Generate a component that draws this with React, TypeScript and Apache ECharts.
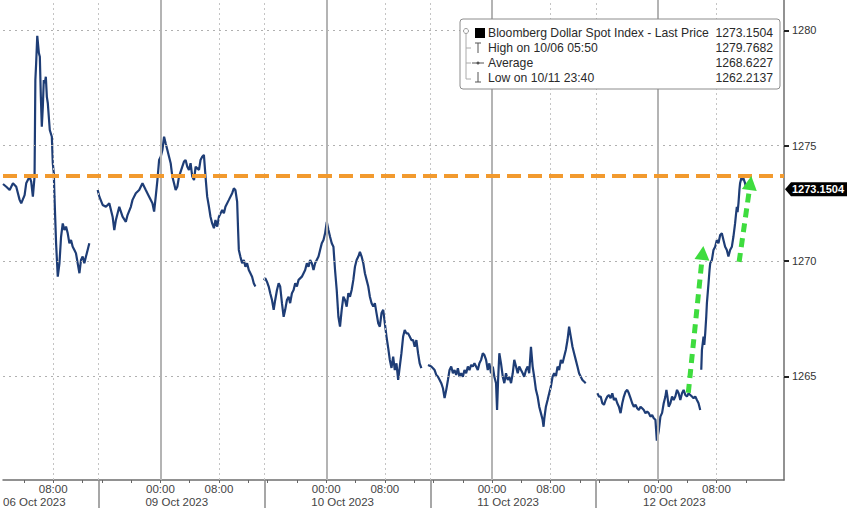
import React, { useEffect, useRef } from "react";
import * as echarts from "echarts";

// Compressed session timeline (hours). Each session runs from a break to the next break.
const dayMidnight = [-1.15, 21.5, 44.15, 66.8, 89.45];
const sessionBreaks = [13.06, 35.71, 58.36, 81.01];
const axisEnd = 106.67;

const dateLabels = ["06 Oct 2023", "09 Oct 2023", "10 Oct 2023", "11 Oct 2023", "12 Oct 2023"];
const timeLabelHours = [0, 8];
const minorTickHours = [-8, -4, 0, 4, 8, 12];
const priceTicks = [1265, 1270, 1275, 1280];
const yMin = 1260.5;
const yMax = 1281.32;

const resistanceLevel = 1273.7;
const lastPrice = 1273.1504;

// [hour relative to that day's midnight, price]
const oct06 = [
  [1.15, 1273.34], [1.6, 1273.22], [2.06, 1273.08], [2.51, 1273.37], [2.96, 1273.22], [3.42, 1272.65],
  [3.64, 1272.5], [4.1, 1272.86], [4.32, 1273.37], [4.78, 1273.66], [5.0, 1273.44], [5.23, 1272.79],
  [5.46, 1273.66], [5.57, 1277.85], [5.68, 1278.59], [5.83, 1279.77], [6.05, 1279.02], [6.18, 1278.86],
  [6.32, 1277.12], [6.45, 1275.82], [6.59, 1276.69], [6.72, 1277.85], [6.86, 1277.71], [7.0, 1277.99],
  [7.14, 1277.12], [7.27, 1276.84], [7.54, 1275.68], [7.82, 1275.39], [7.95, 1274.24], [8.09, 1273.8],
  [8.18, 1272.79], [8.4, 1270.77], [8.63, 1269.32], [8.86, 1269.9], [9.08, 1271.05], [9.31, 1271.63],
  [9.54, 1271.34], [9.76, 1271.49], [9.99, 1271.2], [10.22, 1270.77], [10.44, 1270.91], [10.67, 1270.62],
  [10.9, 1270.48], [11.12, 1270.33], [11.35, 1269.9], [11.59, 1269.47], [11.8, 1270.04], [12.03, 1270.19],
  [12.26, 1269.9], [12.48, 1270.19], [12.71, 1270.48], [12.94, 1270.77],
];

const oct09 = [
  [-8.57, 1273.08], [-8.34, 1272.79], [-7.89, 1272.43], [-7.44, 1272.35], [-6.98, 1272.5], [-6.53, 1271.92],
  [-6.3, 1271.34], [-6.08, 1271.78], [-5.62, 1272.35], [-5.4, 1272.14], [-5.17, 1271.92], [-4.72, 1271.7],
  [-4.49, 1271.99], [-4.04, 1272.35], [-3.81, 1272.65], [-3.36, 1272.94], [-2.9, 1273.08], [-2.45, 1273.37],
  [-2.0, 1273.08], [-1.54, 1272.79], [-1.09, 1272.5], [-0.86, 1272.14], [-0.64, 1272.79], [-0.41, 1273.51],
  [-0.18, 1274.38], [0.04, 1274.52], [0.27, 1274.81], [0.5, 1275.39], [0.72, 1275.1], [0.95, 1274.81],
  [1.18, 1274.52], [1.4, 1274.24], [1.63, 1273.66], [1.86, 1273.37], [2.08, 1273.08], [2.31, 1273.22],
  [2.54, 1273.66], [2.99, 1274.09], [3.22, 1274.31], [3.44, 1274.38], [3.67, 1274.09], [3.9, 1273.95],
  [4.12, 1274.24], [4.35, 1273.66], [4.59, 1273.51], [4.81, 1274.09], [5.27, 1273.95], [5.48, 1274.38],
  [5.71, 1274.52], [5.94, 1274.6], [6.16, 1273.66], [6.39, 1272.79], [6.63, 1272.35], [6.84, 1271.92],
  [7.07, 1271.63], [7.31, 1271.42], [7.52, 1271.78], [7.76, 1271.49], [7.99, 1271.92], [8.44, 1272.21],
  [8.67, 1272.07], [8.88, 1272.35], [9.35, 1272.65], [9.8, 1272.94], [10.03, 1273.15], [10.24, 1273.08],
  [10.48, 1272.57], [10.61, 1271.34], [10.71, 1270.48], [10.92, 1270.19], [11.16, 1269.9], [11.39, 1270.04],
  [11.61, 1269.75], [11.84, 1269.9], [12.07, 1269.61], [12.29, 1269.47], [12.52, 1269.32], [12.75, 1269.03],
  [12.97, 1268.89],
];

const oct10 = [
  [-8.54, 1269.18], [-8.33, 1269.25], [-8.1, 1269.1], [-7.86, 1268.89], [-7.65, 1268.6], [-7.41, 1268.31],
  [-7.18, 1267.88], [-6.97, 1268.31], [-6.73, 1268.74], [-6.5, 1269.03], [-6.29, 1268.89], [-6.05, 1268.17],
  [-5.82, 1267.58], [-5.61, 1267.88], [-5.37, 1268.31], [-5.14, 1268.45], [-4.93, 1268.17], [-4.69, 1268.6],
  [-4.46, 1268.74], [-4.24, 1269.03], [-4.01, 1268.89], [-3.78, 1269.18], [-3.33, 1269.32], [-2.88, 1269.61],
  [-2.65, 1269.9], [-2.42, 1269.75], [-2.2, 1270.04], [-1.97, 1269.9], [-1.74, 1269.61], [-1.52, 1269.9],
  [-1.06, 1270.19], [-0.84, 1270.48], [-0.61, 1270.77], [-0.38, 1270.91], [-0.16, 1271.2], [0.07, 1271.7],
  [0.3, 1271.34], [0.52, 1271.05], [0.75, 1270.77], [0.98, 1270.62], [1.2, 1269.61], [1.43, 1268.74],
  [1.66, 1267.58], [1.88, 1267.15], [2.11, 1267.88], [2.34, 1268.45], [2.56, 1268.31], [2.79, 1268.02],
  [3.02, 1268.6], [3.24, 1268.45], [3.47, 1268.74], [3.7, 1269.18], [3.92, 1269.75], [4.15, 1270.04],
  [4.38, 1270.19], [4.6, 1270.4], [4.83, 1270.19], [5.06, 1269.9], [5.28, 1269.47], [5.51, 1269.18],
  [5.74, 1268.89], [5.96, 1268.45], [6.19, 1268.17], [6.42, 1268.02], [6.64, 1268.17], [6.87, 1267.73],
  [7.1, 1267.3], [7.32, 1267.15], [7.55, 1267.74], [7.78, 1267.88], [8.0, 1267.3], [8.23, 1266.72],
  [8.46, 1266.23], [8.68, 1265.71], [8.91, 1265.36], [9.14, 1265.85], [9.36, 1265.27], [9.59, 1265.56],
  [9.82, 1264.84], [10.04, 1265.42], [10.27, 1266.0], [10.5, 1266.72], [10.72, 1267.01], [10.95, 1266.86],
  [11.18, 1266.86], [11.4, 1266.72], [11.63, 1266.57], [11.86, 1266.57], [12.08, 1266.28], [12.31, 1266.57],
  [12.54, 1266.0], [12.76, 1265.56], [12.99, 1265.35],
];

const oct11 = [
  [-8.75, 1265.49], [-8.3, 1265.42], [-8.07, 1265.35], [-7.85, 1265.27], [-7.62, 1265.06], [-7.39, 1264.98],
  [-7.16, 1264.84], [-6.94, 1264.7], [-6.71, 1264.48], [-6.49, 1264.05], [-6.26, 1264.41], [-6.03, 1264.84],
  [-5.81, 1265.27], [-5.58, 1265.42], [-5.35, 1265.13], [-5.13, 1265.27], [-4.9, 1265.06], [-4.67, 1265.35],
  [-4.45, 1264.98], [-4.22, 1265.13], [-3.99, 1264.98], [-3.77, 1265.27], [-3.54, 1265.13], [-3.31, 1265.42],
  [-3.09, 1265.27], [-2.86, 1265.49], [-2.63, 1265.42], [-2.41, 1265.56], [-2.18, 1265.42], [-1.95, 1265.27],
  [-1.73, 1265.56], [-1.5, 1265.71], [-1.27, 1266.0], [-1.05, 1265.92], [-0.82, 1265.71], [-0.59, 1265.27],
  [-0.37, 1265.56], [-0.14, 1265.13], [0.1, 1265.42], [0.31, 1264.98], [0.54, 1264.7], [0.68, 1263.54],
  [0.82, 1264.84], [0.99, 1266.0], [1.22, 1265.56], [1.46, 1264.98], [1.67, 1264.7], [1.9, 1265.13],
  [2.14, 1264.84], [2.35, 1264.98], [2.59, 1264.7], [2.82, 1265.13], [3.03, 1265.71], [3.27, 1265.42],
  [3.5, 1265.13], [3.71, 1265.42], [3.95, 1265.27], [4.18, 1265.13], [4.39, 1264.98], [4.63, 1265.27],
  [4.86, 1265.42], [5.07, 1265.13], [5.31, 1266.28], [5.54, 1265.42], [5.75, 1264.98], [5.99, 1264.41],
  [6.22, 1264.12], [6.44, 1263.68], [6.67, 1263.4], [6.9, 1263.11], [7.03, 1262.81], [7.14, 1263.19],
  [7.35, 1263.68], [7.58, 1263.97], [7.8, 1264.26], [8.03, 1264.55], [8.26, 1264.98], [8.48, 1265.13],
  [8.71, 1264.98], [8.94, 1265.42], [9.16, 1265.27], [9.39, 1265.71], [9.62, 1265.56], [9.84, 1265.85],
  [10.07, 1266.14], [10.3, 1266.57], [10.52, 1267.15], [10.75, 1266.72], [10.98, 1266.28], [11.2, 1266.0],
  [11.43, 1265.71], [11.66, 1265.42], [11.88, 1265.13], [12.11, 1264.98], [12.34, 1264.84], [12.56, 1264.77],
  [12.79, 1264.7],
];

const oct12Early = [
  [-8.27, 1264.26], [-8.05, 1264.12], [-7.82, 1264.12], [-7.59, 1263.83], [-7.37, 1263.76], [-7.14, 1263.97],
  [-6.91, 1264.12], [-6.69, 1264.19], [-6.46, 1264.05], [-6.23, 1264.26], [-6.01, 1263.97], [-5.78, 1264.05],
  [-5.55, 1263.83], [-5.33, 1263.68], [-5.1, 1263.4], [-4.87, 1263.83], [-4.65, 1264.12], [-4.42, 1264.33],
  [-4.19, 1264.41], [-3.97, 1264.26], [-3.74, 1264.05], [-3.51, 1263.83], [-3.29, 1263.68], [-3.06, 1263.76],
  [-2.83, 1263.61], [-2.61, 1263.54], [-2.38, 1263.68], [-2.15, 1263.61], [-1.93, 1263.54], [-1.7, 1263.4],
  [-1.47, 1263.47], [-1.25, 1263.4], [-1.02, 1263.25], [-0.79, 1263.32], [-0.57, 1263.18], [-0.34, 1263.11],
  [-0.15, 1262.21], [0.1, 1262.6], [0.34, 1263.25], [0.57, 1263.41], [0.79, 1263.83], [1.02, 1264.12],
  [1.16, 1264.41], [1.29, 1264.15], [1.47, 1263.68], [1.7, 1263.83], [1.93, 1264.12], [2.15, 1263.97],
  [2.38, 1264.12], [2.61, 1264.41], [2.83, 1264.26], [3.06, 1263.97], [3.29, 1264.26], [3.51, 1264.41],
  [3.74, 1264.19], [3.97, 1264.12], [4.19, 1264.26], [4.42, 1264.19], [4.65, 1264.12], [4.87, 1264.05],
  [5.1, 1264.12], [5.33, 1263.97], [5.55, 1263.83], [5.78, 1263.54],
];

const oct12Late = [
  [5.92, 1265.28], [6.01, 1266.14], [6.23, 1266.72], [6.33, 1266.36], [6.46, 1266.86], [6.6, 1267.58],
  [6.69, 1268.17], [6.91, 1269.03], [7.05, 1269.61], [7.14, 1269.9], [7.37, 1270.04], [7.59, 1270.48],
  [7.82, 1270.62], [8.05, 1270.91], [8.27, 1270.77], [8.5, 1271.13], [8.73, 1271.2], [8.95, 1270.91],
  [9.18, 1270.62], [9.41, 1270.48], [9.63, 1270.19], [9.86, 1270.48], [10.1, 1270.62], [10.31, 1271.05],
  [10.54, 1271.63], [10.68, 1272.07], [10.78, 1272.35], [10.88, 1272.12], [11.0, 1272.5], [11.13, 1273.08],
  [11.22, 1273.37], [11.45, 1273.66], [11.56, 1273.51], [11.67, 1273.59], [11.9, 1273.38], [12.04, 1273.1504],
];

// green annotation arrows on 12 Oct: [hour, price] tail -> head
const arrowFirstLeg = [[4.15, 1264.28], [6.11, 1270.35]];
const arrowSecondLeg = [[11.09, 1269.96], [12.62, 1273.38]];

const legendRows = [
  ["Bloomberg Dollar Spot Index - Last Price", "1273.1504"],
  ["High on 10/06 05:50", "1279.7682"],
  ["Average", "1268.6227"],
  ["Low on 10/11 23:40", "1262.2137"],
];

const FONT = "'Liberation Sans', Arial, sans-serif";

function toAxis(arr: number[][], d: number) {
  return arr.map(([h, v]) => [+(dayMidnight[d] + h).toFixed(3), v]);
}

export default function App() {
  const ref = useRef<HTMLDivElement>(null);

  useEffect(() => {
    document.body.style.margin = "0";
    const chart = echarts.init(ref.current!, undefined, { renderer: "svg" });

    const timeMap: Record<string, string> = {};
    const timeVals: number[] = [];
    dayMidnight.forEach((m) => {
      timeLabelHours.forEach((h) => {
        const t = +(m + h).toFixed(3);
        if (t >= 0 && t <= axisEnd) {
          timeVals.push(t);
          timeMap[t.toFixed(3)] = (h < 10 ? "0" + h : "" + h) + ":00";
        }
      });
    });

    const tickVals: number[] = [];
    dayMidnight.forEach((m, d) => {
      const start = d === 0 ? 0 : sessionBreaks[d - 1];
      const end = d < sessionBreaks.length ? sessionBreaks[d] : axisEnd;
      minorTickHours.forEach((h) => {
        const t = +(m + h).toFixed(3);
        if (t >= start && t <= end && t >= 0 && t <= axisEnd) tickVals.push(t);
      });
    });

    const dateMap: Record<string, string> = {};
    const dateVals: number[] = [];
    dayMidnight.forEach((m, d) => {
      const t = d === 0 ? 0 : +(m - 2.04).toFixed(3);
      dateVals.push(t);
      dateMap[t.toFixed(3)] = dateLabels[d];
    });

    const lineStyle = { color: "#1e3d76", width: 2.2 };
    const segs = [
      toAxis(oct06, 0),
      toAxis(oct09, 1),
      toAxis(oct10, 2),
      toAxis(oct11, 3),
      toAxis(oct12Early, 4),
      toAxis(oct12Late, 4),
    ];

    const gridLines: any[] = [];
    priceTicks.forEach((p) =>
      gridLines.push({ yAxis: p, lineStyle: { color: "#b0b0b0", width: 1, type: [2, 4] } })
    );
    dayMidnight.forEach((m) => {
      if (m > 0) gridLines.push({ xAxis: m, lineStyle: { color: "#b4b4b4", width: 2, type: "solid" } });
      if (m + 8 > 0) gridLines.push({ xAxis: m + 8, lineStyle: { color: "#c4c4c4", width: 1, type: [2, 3] } });
    });
    sessionBreaks.forEach((b) =>
      gridLines.push({ xAxis: b, lineStyle: { color: "#c4c4c4", width: 1, type: [2, 3] } })
    );

    const a1 = toAxis(arrowFirstLeg, 4);
    const a2 = toAxis(arrowSecondLeg, 4);

    const series: any[] = [
      {
        type: "line",
        name: "grid",
        data: [],
        z: 1,
        silent: true,
        markLine: {
          silent: true,
          symbol: ["none", "none"],
          label: { show: false },
          animation: false,
          data: gridLines,
        },
      },
    ];
    segs.forEach((s) => {
      series.push({
        type: "line",
        data: s,
        showSymbol: false,
        symbol: "none",
        lineStyle,
        z: 3,
        clip: false,
        silent: true,
      });
    });
    series.push({
      type: "line",
      name: "level",
      data: [],
      z: 4,
      silent: true,
      markLine: {
        silent: true,
        animation: false,
        symbol: ["none", "none"],
        label: { show: false },
        data: [{ yAxis: resistanceLevel }],
        lineStyle: { color: "#f29a2e", width: 4, type: [14, 7] },
      },
    });
    series.push({
      type: "line",
      name: "annotations",
      data: [],
      z: 5,
      silent: true,
      markLine: {
        silent: true,
        animation: false,
        symbol: ["none", "triangle"],
        symbolSize: [15, 14],
        label: { show: false },
        data: [
          [{ coord: a1[0] }, { coord: a1[1] }],
          [{ coord: a2[0] }, { coord: a2[1] }],
        ],
        lineStyle: { color: "#3edc3e", width: 5, type: [9, 6] },
        itemStyle: { color: "#3edc3e" },
      },
      markPoint: {
        silent: true,
        animation: false,
        data: [
          {
            coord: [axisEnd, lastPrice],
            symbol: "path://M0,7 L6,0 L62,0 L62,14 L6,14 Z",
            symbolSize: [62, 14],
            symbolKeepAspect: false,
            symbolOffset: [32, 1],
            itemStyle: { color: "#000" },
            label: {
              show: true,
              position: "inside",
              formatter: "1273.1504",
              color: "#fff",
              fontSize: 11,
              fontWeight: "bold",
              fontFamily: FONT,
              offset: [2, 0],
            },
          },
        ],
      },
    });

    const legendGraphic: any[] = [
      {
        type: "rect",
        shape: { x: 460, y: 19, width: 320, height: 70, r: 3 },
        style: { fill: "#fff", stroke: "#8c8c8c", lineWidth: 1 },
        z: 100,
      },
      { type: "line", shape: { x1: 466, y1: 31, x2: 466, y2: 79 }, style: { stroke: "#aaa", lineWidth: 1 }, z: 101 },
      { type: "circle", shape: { cx: 466, cy: 31, r: 2.5 }, style: { fill: "#fff", stroke: "#999" }, z: 102 },
      { type: "line", shape: { x1: 466, y1: 48, x2: 471, y2: 48 }, style: { stroke: "#aaa" }, z: 101 },
      { type: "line", shape: { x1: 466, y1: 63, x2: 471, y2: 63 }, style: { stroke: "#aaa" }, z: 101 },
      { type: "line", shape: { x1: 466, y1: 79, x2: 471, y2: 79 }, style: { stroke: "#aaa" }, z: 101 },
      { type: "rect", shape: { x: 475, y: 28, width: 10, height: 10 }, style: { fill: "#000" }, z: 101 },
      { type: "line", shape: { x1: 475, y1: 43, x2: 481, y2: 43 }, style: { stroke: "#555" }, z: 101 },
      { type: "line", shape: { x1: 478, y1: 43, x2: 478, y2: 53 }, style: { stroke: "#555" }, z: 101 },
      { type: "line", shape: { x1: 472, y1: 63, x2: 484, y2: 63 }, style: { stroke: "#555" }, z: 101 },
      { type: "circle", shape: { cx: 478, cy: 63, r: 1.5 }, style: { fill: "#555" }, z: 101 },
      { type: "line", shape: { x1: 478, y1: 72, x2: 478, y2: 82 }, style: { stroke: "#555" }, z: 101 },
      { type: "line", shape: { x1: 475, y1: 82, x2: 481, y2: 82 }, style: { stroke: "#555" }, z: 101 },
    ];
    legendRows.forEach(([label, value], i) => {
      const y = 33 + i * 15;
      legendGraphic.push({
        type: "text",
        x: 488,
        y,
        style: { text: label, fill: "#2a2a2a", font: `12.2px ${FONT}`, textVerticalAlign: "middle" },
        z: 101,
      });
      legendGraphic.push({
        type: "text",
        x: 773,
        y,
        style: {
          text: value,
          fill: "#2a2a2a",
          font: `12.2px ${FONT}`,
          textAlign: "right",
          textVerticalAlign: "middle",
        },
        z: 101,
      });
    });

    chart.setOption({
      animation: false,
      backgroundColor: "#fff",
      grid: { left: 0, right: 64, top: 0, bottom: 28, containLabel: false },
      xAxis: [
        {
          type: "value",
          min: 0,
          max: axisEnd,
          position: "bottom",
          axisLine: { show: true, onZero: false, lineStyle: { color: "#6e6e6e", width: 1.5 } },
          axisTick: {
            show: true,
            customValues: tickVals,
            length: 3,
            lineStyle: { color: "#666" },
          },
          axisLabel: {
            customValues: timeVals,
            formatter: (v: number) => timeMap[(+v).toFixed(3)] || "",
            color: "#444",
            fontSize: 11.5,
            lineHeight: 12,
            fontFamily: FONT,
            margin: 3,
          },
          splitLine: { show: false },
        },
        {
          type: "value",
          min: 0,
          max: axisEnd,
          position: "bottom",
          axisLine: { show: false, onZero: false },
          axisTick: {
            show: true,
            customValues: sessionBreaks,
            length: 28,
            lineStyle: { color: "#8a8a8a", width: 1.5 },
          },
          axisLabel: {
            customValues: dateVals,
            formatter: (v: number) => dateMap[(+v).toFixed(3)] || "",
            color: "#444",
            fontSize: 11.5,
            lineHeight: 12,
            fontFamily: FONT,
            margin: 16,
            align: "left",
          },
          splitLine: { show: false },
        },
      ],
      yAxis: [
        {
          type: "value",
          min: yMin,
          max: yMax,
          position: "right",
          axisLine: { show: true, onZero: false, lineStyle: { color: "#6e6e6e", width: 1.5 } },
          axisTick: { show: true, customValues: priceTicks, length: 5, lineStyle: { color: "#222", width: 2 } },
          axisLabel: {
            customValues: priceTicks,
            formatter: (v: number) => String(Math.round(v)),
            color: "#333",
            fontSize: 11,
            fontFamily: FONT,
            margin: 8,
          },
          splitLine: { show: false },
        },
      ],
      series,
      graphic: legendGraphic,
    });

    return () => chart.dispose();
  }, []);

  return (
    <div
      ref={ref}
      style={{ position: "absolute", left: 0, top: 0, width: 848, height: 508, background: "#fff" }}
    />
  );
}
